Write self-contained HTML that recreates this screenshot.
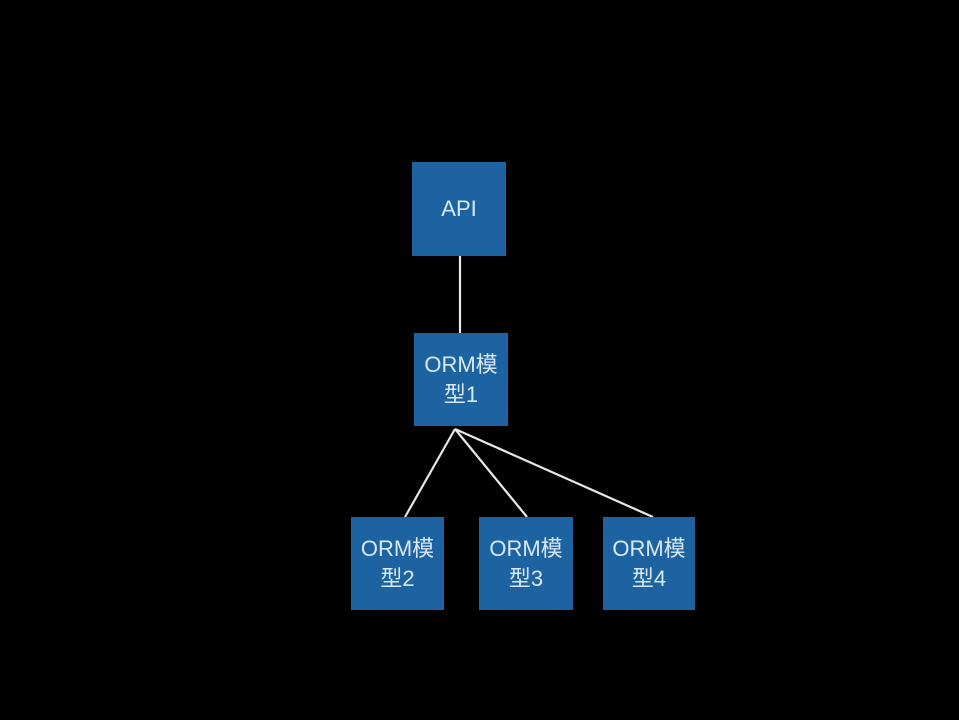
<!DOCTYPE html>
<html><head><meta charset="utf-8"><style>
html,body{margin:0;padding:0;background:#000;width:959px;height:720px;overflow:hidden}
.b{position:absolute;background:#1e63a1;color:#d8e8f6;font-family:"Liberation Sans","Noto Sans CJK SC",sans-serif;font-size:22px;line-height:30px;display:flex;align-items:center;justify-content:center;text-align:center;white-space:nowrap}
</style></head><body>
<svg width="959" height="720" style="position:absolute;left:0;top:0">
<g stroke="#e8e8e8" stroke-width="2.2" fill="none">
<line x1="460" y1="256" x2="460" y2="333"/>
<line x1="455" y1="429" x2="405" y2="517"/>
<line x1="455" y1="429" x2="527" y2="517"/>
<line x1="455" y1="429" x2="653" y2="517"/>
</g></svg>
<div class="b" style="left:412px;top:162px;width:94px;height:94px">API</div>
<div class="b" style="left:414px;top:333px;width:94px;height:93px">ORM模<br>型1</div>
<div class="b" style="left:351px;top:517px;width:93px;height:93px">ORM模<br>型2</div>
<div class="b" style="left:479px;top:517px;width:94px;height:93px">ORM模<br>型3</div>
<div class="b" style="left:603px;top:517px;width:92px;height:93px">ORM模<br>型4</div>
</body></html>
